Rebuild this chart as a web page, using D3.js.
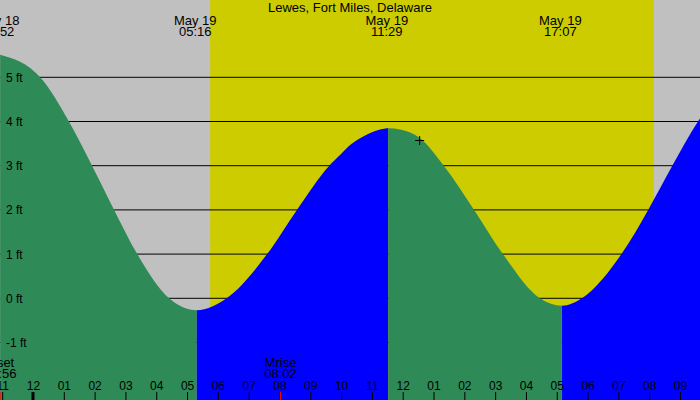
<!DOCTYPE html>
<html>

<head>
    <style>
        body { margin: 0; }
        svg { display: block; font-family: "Liberation Sans", Arial, sans-serif; }
        .lbl { font-size: 13px; text-anchor: middle; fill: black; }
        .ylbl { font-size: 12px; fill: black; }
        .tick text { font-size: 12px; }
    </style>
    <script src="https://d3js.org/d3.v7.min.js"></script>
</head>

<body>
    <svg width="700" height="400"></svg>
    <script>
        var title = "Lewes, Fort Miles, Delaware";

        // high / low tide labels
        var tideTimes = ["May 18 22:52", "May 19 05:16", "May 19 11:29", "May 19 17:07"];

        // curve readings (time, feet)
        var curveTimes = ["May 18 22:56", "May 19 00:14", "May 19 01:10", "May 19 01:55", "May 19 02:38",
            "May 19 03:23", "May 19 04:25", "May 19 05:19", "May 19 06:17", "May 19 07:36", "May 19 08:34",
            "May 19 09:37", "May 19 09:58", "May 19 10:17", "May 19 10:37", "May 19 11:16", "May 19 11:32",
            "May 19 11:55", "May 19 12:32", "May 19 13:20", "May 19 14:19", "May 19 15:15", "May 19 16:27",
            "May 19 17:10", "May 19 17:49", "May 19 19:06", "May 19 19:58", "May 19 20:45", "May 19 21:35",
            "May 19 21:39"];
        var curveFeet = [5.51, 5, 4, 3, 2, 1, 0, -0.27, 0, 1, 2, 3, 3.24, 3.46, 3.62, 3.82, 3.85, 3.82,
            3.64, 3, 2, 1, 0, -0.17, 0, 1, 2, 3, 4, 4.07];

        var sunTimes = ["May 19 05:45", "May 19 20:09"];   // sunrise, sunset
        var moonTimes = ["May 18 22:56", "May 19 08:02"];
        var moonNames = ["Mset", "Mrise"];
        var nowTime = "May 19 12:33", nowFeet = 3.57;
        var yTicks = [-1, 0, 1, 2, 3, 4, 5];

        var parse = d3.timeParse("%b %d %H:%M"),
            hhmm = d3.timeFormat("%H:%M"),
            mday = d3.timeFormat("%b %d");

        var svg = d3.select("svg"),
            width = 700,
            height = 400;

        var x = d3.scaleTime()
            .domain([parse("May 19 00:00"), parse("May 19 21:00")])
            .range([33, 680]);
        x = x.copy().domain([x.invert(0), x.invert(width)]).range([0, width]);

        var y = d3.scaleLinear().domain([0, 5]).range([298.3, 77.3]);

        // background: night grey, day yellow
        svg.append("rect").attr("width", width).attr("height", height).attr("fill", "#c0c0c0");
        svg.append("rect")
            .attr("x", x(parse(sunTimes[0])))
            .attr("width", x(parse(sunTimes[1])) - x(parse(sunTimes[0])))
            .attr("height", height)
            .attr("fill", "#cccc00");

        // grid lines (behind water)
        svg.selectAll(".grid")
            .data(yTicks)
            .enter().append("line")
            .attr("x1", 0).attr("x2", width)
            .attr("y1", function (d) { return y(d); })
            .attr("y2", function (d) { return y(d); })
            .attr("stroke", "black");

        var pts = curveTimes.map(function (t, i) { return [parse(t), curveFeet[i]]; });

        var area = d3.area()
            .curve(d3.curveMonotoneX)
            .x(function (d) { return x(d[0]); })
            .y0(height)
            .y1(function (d) { return y(d[1]); });

        // turning points of the curve
        var ext = [0];
        for (var i = 1; i < curveFeet.length - 1; i++) {
            if ((curveFeet[i] - curveFeet[i - 1]) * (curveFeet[i + 1] - curveFeet[i]) < 0) ext.push(i);
        }
        ext.push(curveFeet.length - 1);

        // falling tide green, rising tide blue
        for (var k = 0; k < ext.length - 1; k++) {
            var rising = curveFeet[ext[k + 1]] > curveFeet[ext[k]];
            var x0 = k == 0 ? 0 : x(pts[ext[k]][0]),
                x1 = k == ext.length - 2 ? width : x(pts[ext[k + 1]][0]);
            svg.append("clipPath").attr("id", "seg" + k)
                .append("rect").attr("x", x0).attr("y", 0)
                .attr("width", x1 - x0).attr("height", height);
            svg.append("path")
                .datum(pts)
                .attr("clip-path", "url(#seg" + k + ")")
                .attr("fill", rising ? "#0000ff" : "#2e8b57")
                .attr("d", area);
        }

        // y labels
        svg.selectAll(".ylbl")
            .data(yTicks)
            .enter().append("text")
            .attr("class", "ylbl")
            .attr("x", 6)
            .attr("y", function (d) { return y(d) + 4.4; })
            .text(function (d) { return d + " ft"; });

        // title and tide times
        svg.append("text").attr("class", "lbl").attr("x", width / 2).attr("y", 11.5).text(title);

        var tl = svg.selectAll(".tide")
            .data(tideTimes)
            .enter().append("g")
            .attr("transform", function (d) { return "translate(" + x(parse(d)) + ",0)"; });
        tl.append("text").attr("class", "lbl").attr("y", 24.5)
            .text(function (d) { return mday(parse(d)); });
        tl.append("text").attr("class", "lbl").attr("y", 36)
            .text(function (d) { return hhmm(parse(d)); });

        // hour axis
        var axis = svg.append("g")
            .attr("transform", "translate(0," + height + ")")
            .call(d3.axisTop(x)
                .ticks(d3.timeHour.every(1))
                .tickFormat(d3.timeFormat("%I"))
                .tickSize(8)
                .tickPadding(2));
        axis.select(".domain").remove();
        axis.selectAll("text").attr("font-family", null).attr("font-size", null);

        // day boundary
        svg.append("line")
            .attr("x1", x(parse("May 19 00:00"))).attr("x2", x(parse("May 19 00:00")))
            .attr("y1", height - 8).attr("y2", height)
            .attr("stroke", "black").attr("stroke-width", 3);

        // moon rise / set
        var ml = svg.selectAll(".moon")
            .data(moonTimes)
            .enter().append("g")
            .attr("transform", function (d) { return "translate(" + x(parse(d)) + ",0)"; });
        ml.append("line").attr("y1", height - 8).attr("y2", height).attr("stroke", "red");
        ml.append("text").attr("class", "lbl").attr("y", 366.5)
            .text(function (d, i) { return moonNames[i]; });
        ml.append("text").attr("class", "lbl").attr("y", 377.5)
            .text(function (d) { return hhmm(parse(d)); });

        // current time marker
        var nx = x(parse(nowTime)), ny = y(nowFeet);
        svg.append("path")
            .attr("d", "M" + (nx - 4.5) + "," + ny + "h9M" + nx + "," + (ny - 4.5) + "v9")
            .attr("stroke", "black");
    </script>
</body>

</html>
